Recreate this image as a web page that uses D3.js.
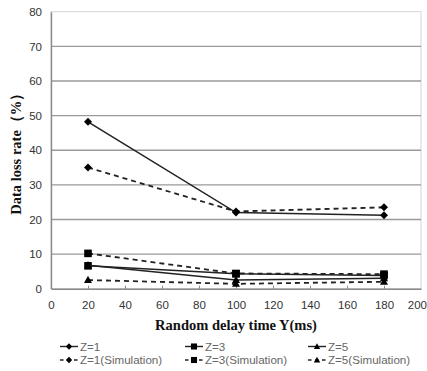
<!DOCTYPE html>
<html>
<head>
<meta charset="utf-8">
<script src="https://cdn.jsdelivr.net/npm/d3@7"></script>
<style>
  html, body { margin: 0; padding: 0; background: #fff; }
  #chart { width: 427px; height: 371px; overflow: hidden; }
</style>
</head>
<body>
<div id="chart"></div>
<script>
// Data
const delays = [20, 100, 180];
const z1 = [48.2, 22.0, 21.2];
const z1Sim = [35.0, 22.3, 23.5];
const z3 = [6.6, 4.3, 3.8];
const z3Sim = [10.2, 4.4, 4.2];
const z5 = [6.8, 2.5, 3.0];
const z5Sim = [2.5, 1.4, 2.0];
const xTicks = [0, 20, 40, 60, 80, 100, 120, 140, 160, 180, 200];
const yTicks = [0, 10, 20, 30, 40, 50, 60, 70, 80];

const series = [
  { name: 'Z=1', values: z1, marker: 'diamond', dashed: false },
  { name: 'Z=3', values: z3, marker: 'square', dashed: false },
  { name: 'Z=5', values: z5, marker: 'triangle', dashed: false },
  { name: 'Z=1(Simulation)', values: z1Sim, marker: 'diamond', dashed: true },
  { name: 'Z=3(Simulation)', values: z3Sim, marker: 'square', dashed: true },
  { name: 'Z=5(Simulation)', values: z5Sim, marker: 'triangle', dashed: true }
];

const W = 427, H = 371;
const plotL = 51, plotR = 421, plotT = 11.7, plotB = 288.7;

const svg = d3.select('#chart').append('svg')
  .attr('width', W).attr('height', H);

const x = d3.scaleLinear().domain([0, 200]).range([plotL, plotR]);
const y = d3.scaleLinear().domain([0, 80]).range([plotB, plotT]);

// Plot border (top/right light)
svg.append('rect')
  .attr('x', plotL).attr('y', plotT)
  .attr('width', plotR - plotL).attr('height', plotB - plotT)
  .attr('fill', 'none').attr('stroke', '#d4d4d4').attr('stroke-width', 1);

// Gridlines
svg.append('g').selectAll('line')
  .data(yTicks.filter(v => v > 0 && v < 80))
  .join('line')
  .attr('x1', plotL).attr('x2', plotR)
  .attr('y1', d => y(d)).attr('y2', d => y(d))
  .attr('stroke', '#9a9a9a').attr('stroke-width', 1.4);

// Axes
const xAxis = svg.append('g')
  .attr('transform', `translate(0,${plotB})`)
  .call(d3.axisBottom(x).tickValues(xTicks).tickSize(-3).tickPadding(12).tickSizeOuter(0));
const yAxis = svg.append('g')
  .attr('transform', `translate(${plotL},0)`)
  .call(d3.axisLeft(y).tickValues(yTicks).tickSize(0).tickPadding(9).tickSizeOuter(0));

[xAxis, yAxis].forEach(a => {
  a.select('.domain').attr('stroke', '#8a8a8a').attr('stroke-width', 1.4);
  a.selectAll('.tick line').attr('stroke', '#8a8a8a');
  a.selectAll('.tick text')
    .attr('fill', '#333')
    .style('font-family', "'Liberation Sans', Arial, sans-serif")
    .style('font-size', '11.5px');
});
xAxis.selectAll('.tick line').filter(d => d === 0 || d === 200).remove();
// last label sits at the window edge; keep it inside
xAxis.selectAll('.tick text').filter(d => d === 200).attr('text-anchor', 'end').attr('dx', 5.5);

// Axis titles
svg.append('text')
  .attr('x', (plotL + plotR) / 2).attr('y', 330)
  .attr('text-anchor', 'middle')
  .attr('fill', '#111')
  .style('font-family', "'Liberation Serif', 'Times New Roman', serif")
  .style('font-weight', 'bold').style('font-size', '14.5px')
  .text('Random delay time Y(ms)');

svg.append('text')
  .attr('transform', `translate(21,${(plotT + plotB) / 2}) rotate(-90)`)
  .attr('text-anchor', 'middle')
  .attr('fill', '#111')
  .style('font-family', "'Liberation Serif', 'Times New Roman', serif")
  .style('font-weight', 'bold').style('font-size', '14.5px')
  .text('Data loss rate（%）');

// Markers
function markerPath(type) {
  if (type === 'diamond') return 'M0,-4L4,0L0,4L-4,0Z';
  if (type === 'square') return 'M-3.8,-3.8H3.8V3.8H-3.8Z';
  return 'M0,-4.2L4,3L-4,3Z';
}

const line = d3.line().x((d, i) => x(delays[i])).y(d => y(d));

const plot = svg.append('g');
series.forEach(s => {
  plot.append('path')
    .attr('d', line(s.values))
    .attr('fill', 'none')
    .attr('stroke', '#222')
    .attr('stroke-width', s.dashed ? 1.8 : 1.5)
    .attr('stroke-dasharray', s.dashed ? '5,4' : null);
  plot.selectAll(null)
    .data(s.values)
    .join('path')
    .attr('transform', (d, i) => `translate(${x(delays[i])},${y(d)})`)
    .attr('d', markerPath(s.marker))
    .attr('fill', '#000');
});

// Legend
const legCols = [60, 185, 308];
const legRows = [346.5, 360];
const legend = svg.append('g');
series.forEach((s, i) => {
  const col = i % 3, row = Math.floor(i / 3);
  const lx = legCols[col], ly = legRows[row];
  const g = legend.append('g').attr('transform', `translate(${lx},${ly})`);
  g.append('line')
    .attr('x1', 0).attr('x2', 18).attr('y1', 0).attr('y2', 0)
    .attr('stroke', '#222').attr('stroke-width', 1.4)
    .attr('stroke-dasharray', s.dashed ? '3.5,3.5' : null);
  g.append('path')
    .attr('transform', 'translate(9,0) scale(0.8)')
    .attr('d', markerPath(s.marker))
    .attr('fill', '#000');
  g.append('text')
    .attr('x', 20).attr('y', 4)
    .attr('fill', '#666')
    .style('font-family', "'Liberation Sans', Arial, sans-serif")
    .style('font-size', '11.6px')
    .text(s.name);
});
</script>
</body>
</html>
